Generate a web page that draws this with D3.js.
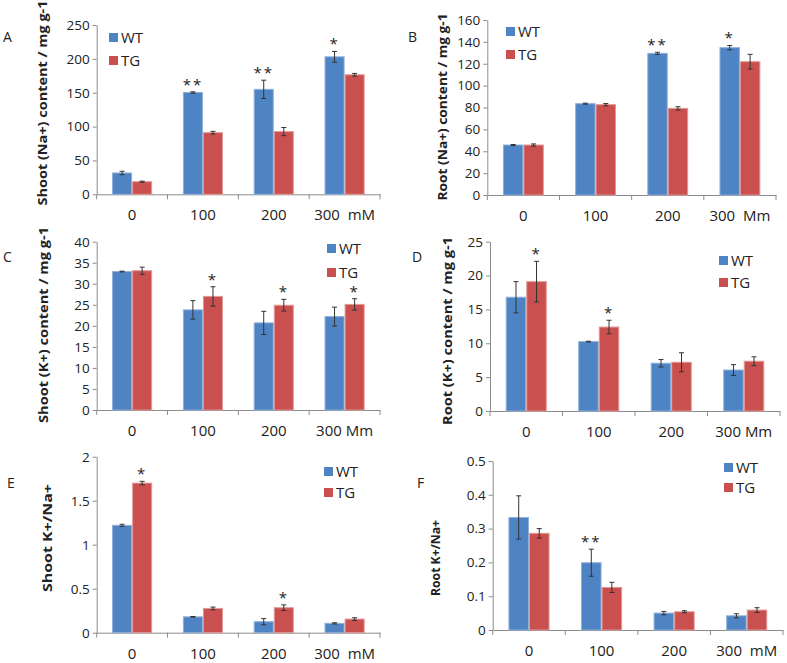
<!DOCTYPE html>
<html><head><meta charset="utf-8">
<script src="https://cdn.jsdelivr.net/npm/d3@7"></script>
<style>
body{margin:0;background:#fff;}
svg text{font-family:"Open Sans",sans-serif;fill:#222;}
</style></head><body>
<svg id="c" width="787" height="663"></svg>
<script>
// ---------- data ----------
const doses = ["0", "100", "200", "300"];
const series = ["WT", "TG"];

// A: shoot Na+
const shootNaWT = [31.5, 150.3, 155, 203];
const shootNaWTErr = [2.5, 1, 13.5, 8];
const shootNaTG = [18.6, 91, 92.6, 176.5];
const shootNaTGErr = [0.8, 2, 6, 2];
const shootNaStars = [["", ""], ["**", ""], ["**", ""], ["*", ""]];
const shootNaLabels = ["0", "100", "200", "300  mM"];

// B: root Na+
const rootNaWT = [45.7, 83.5, 129.5, 134.7];
const rootNaWTErr = [0.5, 0.5, 1, 2];
const rootNaTG = [45.7, 82.6, 79.2, 121.9];
const rootNaTGErr = [1, 1, 1.5, 6.7];
const rootNaStars = [["", ""], ["", ""], ["**", ""], ["*", ""]];
const rootNaLabels = ["0", "100", "200", "300  Mm"];

// C: shoot K+
const shootKWT = [32.9, 23.8, 20.7, 22.2];
const shootKWTErr = [0.1, 2.2, 2.75, 2.25];
const shootKTG = [33.1, 27, 24.9, 25.1];
const shootKTGErr = [0.85, 2.3, 1.4, 1.35];
const shootKStars = [["", ""], ["", "*"], ["", "*"], ["", "*"]];
const shootKLabels = ["0", "100", "200", "300 Mm"];

// D: root K+
const rootKWT = [16.8, 10.25, 7.05, 6.05];
const rootKWTErr = [2.3, 0.05, 0.55, 0.8];
const rootKTG = [19.1, 12.4, 7.2, 7.35];
const rootKTGErr = [3.0, 1.0, 1.4, 0.65];
const rootKStars = [["", "*"], ["", "*"], ["", ""], ["", ""]];
const rootKLabels = ["0", "100", "200", "300 Mm"];

// E: shoot K+/Na+
const shootRatioWT = [1.22, 0.18, 0.125, 0.106];
const shootRatioWTErr = [0.012, 0.004, 0.035, 0.007];
const shootRatioTG = [1.70, 0.276, 0.284, 0.155];
const shootRatioTGErr = [0.02, 0.015, 0.032, 0.015];
const shootRatioStars = [["", "*"], ["", ""], ["", "*"], ["", ""]];
const shootRatioLabels = ["0", "100", "200", "300  mM"];

// F: root K+/Na+
const rootRatioWT = [0.333, 0.199, 0.05, 0.042];
const rootRatioWTErr = [0.064, 0.04, 0.005, 0.006];
const rootRatioTG = [0.286, 0.126, 0.054, 0.059];
const rootRatioTGErr = [0.014, 0.015, 0.003, 0.007];
const rootRatioStars = [["", ""], ["**", ""], ["", ""], ["", ""]];
const rootRatioLabels = ["0", "100", "200", "300  mM"];

const yMax = [250, 160, 40, 25, 2, 0.5];
const yStep = [50, 20, 5, 5, 0.5, 0.1];
const yTitles = ["Shoot (Na+) content / mg g-1", "Root (Na+) content / mg g-1",
  "Shoot (K+)  content / mg g-1", "Root (K+)  content / mg g-1",
  "Shoot K+/Na+", "Root K+/Na+"];
const panelLetters = ["A", "B", "C", "D", "E", "F"];

// ---------- layout ----------
const layout = [
  {x0: 96.7, x1: 380, yTop: 25, y0: 194.3, tx: 42, tc: 103, tl: 205, lx: 3, ly: 42, gx: 109, gy: 33, gd: 23},
  {x0: 487.3, x1: 776, yTop: 20, y0: 195, tx: 442, tc: 107, tl: 187, lx: 408, ly: 42, gx: 506, gy: 27, gd: 23},
  {x0: 96.7, x1: 380, yTop: 241.7, y0: 410, tx: 43, tc: 325, tl: 196, lx: 3, ly: 262, gx: 327, gy: 244, gd: 24},
  {x0: 490, x1: 780, yTop: 241.7, y0: 411, tx: 447, tc: 331, tl: 188, lx: 412, ly: 262, gx: 719, gy: 256, gd: 22},
  {x0: 96.7, x1: 380, yTop: 456.7, y0: 632.7, tx: 47, tc: 538, tl: 108, lx: 7, ly: 488, gx: 324, gy: 467, gd: 21},
  {x0: 492.7, x1: 783, yTop: 461, y0: 630, tx: 435, tc: 558, tl: 76, lx: 417, ly: 488, gx: 724, gy: 463, gd: 20}
];

const panels = [
  [shootNaWT, shootNaWTErr, shootNaTG, shootNaTGErr, shootNaStars, shootNaLabels],
  [rootNaWT, rootNaWTErr, rootNaTG, rootNaTGErr, rootNaStars, rootNaLabels],
  [shootKWT, shootKWTErr, shootKTG, shootKTGErr, shootKStars, shootKLabels],
  [rootKWT, rootKWTErr, rootKTG, rootKTGErr, rootKStars, rootKLabels],
  [shootRatioWT, shootRatioWTErr, shootRatioTG, shootRatioTGErr, shootRatioStars, shootRatioLabels],
  [rootRatioWT, rootRatioWTErr, rootRatioTG, rootRatioTGErr, rootRatioStars, rootRatioLabels]
].map((p, i) => ({
  rows: doses.map((d, j) => ({
    dose: d,
    vals: [
      {s: "WT", v: p[0][j], e: p[1][j], star: p[4][j][0]},
      {s: "TG", v: p[2][j], e: p[3][j], star: p[4][j][1]}
    ]
  })),
  labels: p[5], max: yMax[i], step: yStep[i], title: yTitles[i], letter: panelLetters[i], L: layout[i]
}));

const color = d3.scaleOrdinal().domain(series).range(["#4F84C4", "#C9504F"]);
const stroke = d3.scaleOrdinal().domain(series).range(["#8FB0DA", "#E09A98"]);
const svg = d3.select("#c");
const axisColor = "#8C8C8C";

panels.forEach(P => {
  const L = P.L;
  const g = svg.append("g");
  const x = d3.scaleBand().domain(doses).range([L.x0, L.x1]);
  const xi = d3.scaleBand().domain(series).range([0, x.bandwidth()]).paddingOuter(0.765);
  const y = d3.scaleLinear().domain([0, P.max]).range([L.y0, L.yTop]);

  // y axis
  const ticks = d3.range(0, P.max + P.step / 2, P.step);
  const ya = g.append("g").attr("transform", `translate(${L.x0},0)`)
    .call(d3.axisLeft(y).tickValues(ticks).tickSize(4).tickSizeOuter(0).tickPadding(3)
      .tickFormat(d => String(+d.toFixed(2))));
  ya.select(".domain").attr("stroke", axisColor);
  ya.selectAll(".tick line").attr("stroke", axisColor);
  ya.selectAll(".tick text").attr("font-size", 13.5).attr("fill", "#222")
    .style("font-family", "'Open Sans',sans-serif");

  // x axis
  const xa = g.append("g").attr("transform", `translate(0,${L.y0})`)
    .call(d3.axisBottom(x).tickSize(0).tickPadding(0).tickFormat((d, j) => P.labels[j]));
  xa.select(".domain").attr("stroke", axisColor);
  xa.selectAll(".tick text").attr("font-size", 15).attr("y", 26).attr("dy", 0)
    .style("white-space", "pre").attr("fill", "#222")
    .style("font-family", "'Open Sans',sans-serif");
  const bounds = doses.map(d => x(d)).concat([x.range()[1]]);
  g.selectAll(".xb").data(bounds).join("line")
    .attr("x1", d => d).attr("x2", d => d).attr("y1", L.y0).attr("y2", L.y0 + 5)
    .attr("stroke", axisColor);

  // bars
  const grp = g.selectAll(".grp").data(P.rows).join("g")
    .attr("transform", d => `translate(${x(d.dose)},0)`);
  grp.selectAll("rect").data(d => d.vals).join("rect")
    .attr("x", d => xi(d.s) + 0.5).attr("width", xi.bandwidth() - 1)
    .attr("y", d => y(d.v)).attr("height", d => y(0) - y(d.v))
    .attr("fill", d => color(d.s)).attr("stroke", d => stroke(d.s)).attr("stroke-width", 1);

  // error bars
  const eb = grp.selectAll(".eb").data(d => d.vals).join("g");
  eb.append("line")
    .attr("x1", d => xi(d.s) + xi.bandwidth() / 2).attr("x2", d => xi(d.s) + xi.bandwidth() / 2)
    .attr("y1", d => y(d.v - d.e)).attr("y2", d => y(d.v + d.e));
  eb.append("line")
    .attr("x1", d => xi(d.s) + xi.bandwidth() / 2 - 2.5).attr("x2", d => xi(d.s) + xi.bandwidth() / 2 + 2.5)
    .attr("y1", d => y(d.v + d.e)).attr("y2", d => y(d.v + d.e));
  eb.append("line")
    .attr("x1", d => xi(d.s) + xi.bandwidth() / 2 - 2.5).attr("x2", d => xi(d.s) + xi.bandwidth() / 2 + 2.5)
    .attr("y1", d => y(d.v - d.e)).attr("y2", d => y(d.v - d.e));
  eb.selectAll("line").attr("stroke", "#333").attr("stroke-width", 1);

  // stars
  grp.selectAll(".star").data(d => d.vals.filter(v => v.star)).join("text")
    .attr("x", d => xi(d.s) + xi.bandwidth() / 2).attr("y", d => y(d.v + d.e) - 2)
    .attr("text-anchor", "middle").attr("font-size", 15).attr("letter-spacing", 2)
    .text(d => d.star);

  // y title
  g.append("text").attr("transform", `translate(${L.tx},${L.tc}) rotate(-90)`)
    .attr("text-anchor", "middle").attr("dy", "0.35em")
    .attr("font-size", 13).attr("font-weight", "bold")
    .attr("textLength", L.tl).attr("lengthAdjust", "spacingAndGlyphs")
    .text(P.title);

  // panel letter
  g.append("text").attr("x", L.lx).attr("y", L.ly).attr("font-size", 14).text(P.letter);

  // legend
  const lg = g.selectAll(".lg").data(series).join("g")
    .attr("transform", (d, j) => `translate(${L.gx},${L.gy + j * L.gd})`);
  lg.append("rect").attr("width", 9).attr("height", 9).attr("fill", d => color(d));
  lg.append("text").attr("x", 12).attr("y", 10).attr("font-size", 15).text(d => d);
});
</script>
</body></html>
